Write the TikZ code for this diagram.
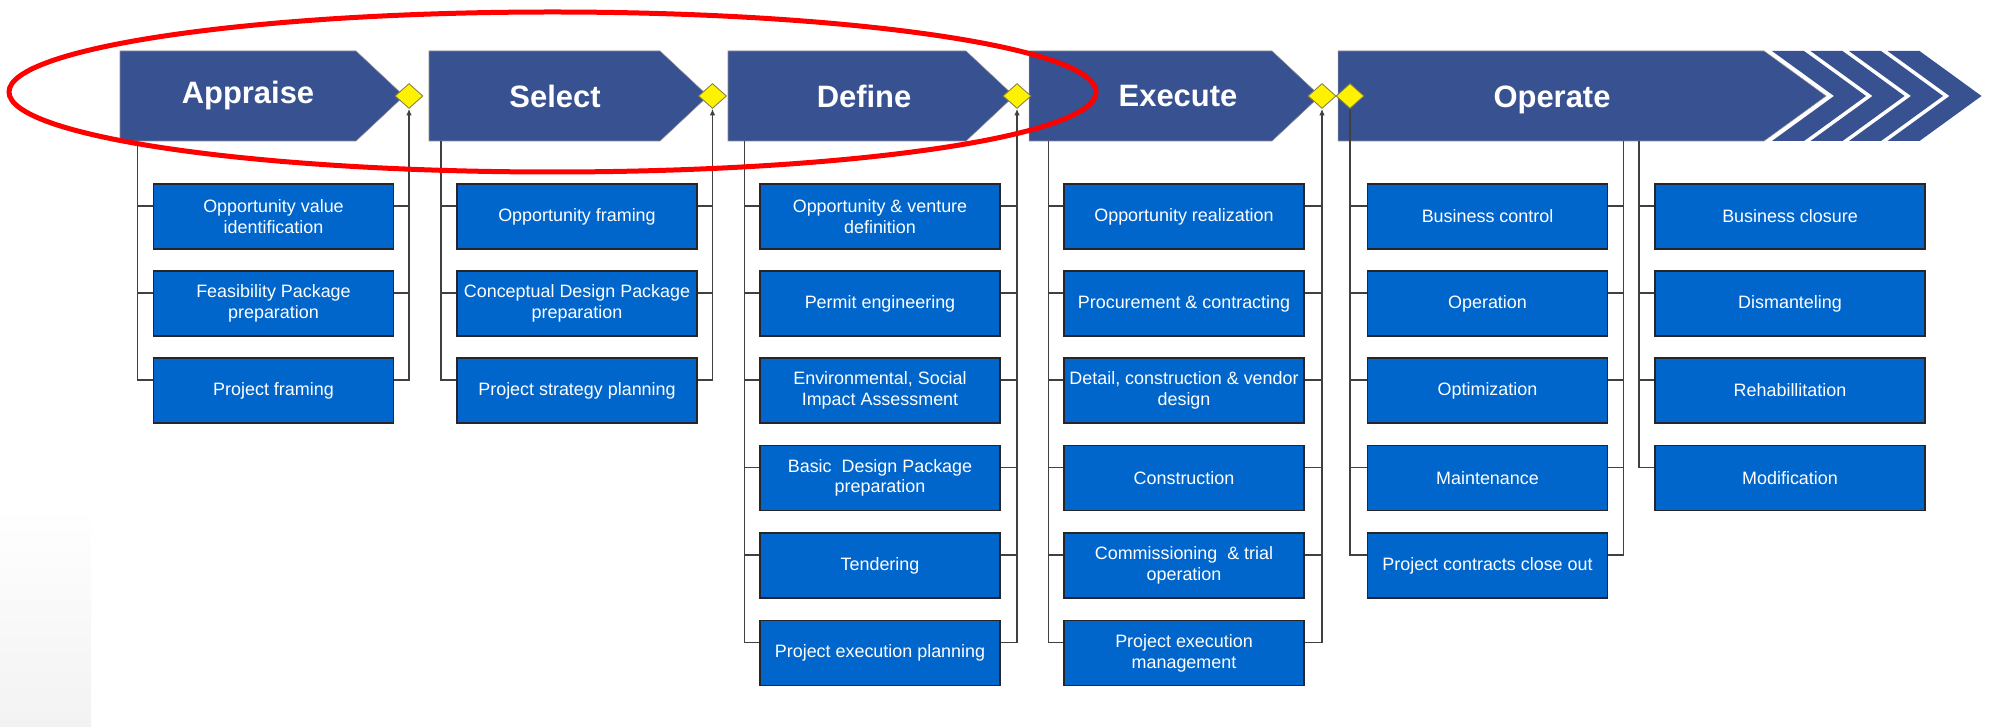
\documentclass[tikz,border=0pt]{standalone}
\usepackage{fontspec}
\setmainfont{Liberation Sans}
\usetikzlibrary{shapes.geometric,arrows.meta}

\definecolor{phaseblue}{RGB}{56,81,145}
\definecolor{taskblue}{RGB}{0,102,204}

\tikzset{
  phase/.style={fill=phaseblue,draw=black!45,line width=0.3pt},
  phasetext/.style={anchor=base,text=white,font=\bfseries\fontsize{17.6}{20}\selectfont},
  task/.style={draw=black!85,line width=0.8pt,fill=taskblue,text=white,
    minimum width=4.8cm,minimum height=1.3cm,inner sep=0pt,align=center,
    font=\fontsize{10.2}{11.8}\selectfont},
  gate/.style={diamond,draw=black!55!yellow,fill=yellow,line width=0.5pt,
    inner sep=0pt,minimum width=0.56cm,minimum height=0.5cm},
  conn/.style={draw=black!75,line width=0.6pt},
  gatearrow/.style={-{Latex[length=1.3mm,width=1.1mm]}},
  tap/.style={yshift=2.1mm}
}

\begin{document}
\begin{tikzpicture}
\useasboundingbox (0,0) rectangle (39.84,14.52);

%faint shading in the corner
\shade[top color=white,bottom color=black!5] (0,0) rectangle (1.82,4.4);

%phase arrows
\filldraw[phase] (2.4,13.5)--(7.12,13.5)--(8.08,12.6)--(7.12,11.7)--(2.4,11.7)--cycle;
\filldraw[phase] (8.58,13.5)--(13.2,13.5)--(14.16,12.6)--(13.2,11.7)--(8.58,11.7)--cycle;
\filldraw[phase] (14.56,13.5)--(19.32,13.5)--(20.28,12.6)--(19.32,11.7)--(14.56,11.7)--cycle;
\filldraw[phase] (20.58,13.5)--(25.44,13.5)--(26.4,12.6)--(25.44,11.7)--(20.58,11.7)--cycle;
\filldraw[phase] (26.76,13.5)--(35.28,13.5)--(36.52,12.6)--(35.28,11.7)--(26.76,11.7)--cycle;

%chevrons at the end of operate
\fill[phaseblue] (35.44,13.5)--(36.08,13.5)--(37.32,12.6)--(36.08,11.7)--(35.44,11.7)--(36.68,12.6)--cycle;
\fill[phaseblue] (36.21,13.5)--(36.85,13.5)--(38.09,12.6)--(36.85,11.7)--(36.21,11.7)--(37.45,12.6)--cycle;
\fill[phaseblue] (36.98,13.5)--(37.62,13.5)--(38.86,12.6)--(37.62,11.7)--(36.98,11.7)--(38.22,12.6)--cycle;
\fill[phaseblue] (37.75,13.5)--(38.39,13.5)--(39.63,12.6)--(38.39,11.7)--(37.75,11.7)--(38.99,12.6)--cycle;

%phase names
\node[phasetext] (appraise) at (4.96,12.45) {Appraise};
\node[phasetext] (select) at (11.1,12.37) {Select};
\node[phasetext] (define) at (17.28,12.37) {Define};
\node[phasetext] (execute) at (23.56,12.39) {Execute};
\node[phasetext] (operate) at (31.04,12.37) {Operate};

%gates
\node[gate] (gA) at (8.18,12.6) {};
\node[gate] (gS) at (14.25,12.6) {};
\node[gate] (gD) at (20.34,12.6) {};
\node[gate] (gE) at (26.44,12.6) {};
\node[gate] (gO) at (27.0,12.6) {};

%appraise tasks
\node[task] (a1) at (5.47,10.19) {Opportunity value\\identification};
\node[task] (a2) at (5.47,8.45) {Feasibility Package\\preparation};
\node[task] (a3) at (5.47,6.71) {Project framing};

%select tasks
\node[task] (s1) at (11.54,10.19) {Opportunity framing};
\node[task] (s2) at (11.54,8.45) {Conceptual Design Package\\preparation};
\node[task] (s3) at (11.54,6.71) {Project strategy planning};

%define tasks
\node[task] (d1) at (17.6,10.19) {Opportunity \& venture\\definition};
\node[task] (d2) at (17.6,8.45) {Permit engineering};
\node[task] (d3) at (17.6,6.71) {Environmental, Social\\Impact Assessment};
\node[task] (d4) at (17.6,4.96) {Basic~ Design Package\\preparation};
\node[task] (d5) at (17.6,3.21) {Tendering};
\node[task] (d6) at (17.6,1.46) {Project execution planning};

%execute tasks
\node[task] (e1) at (23.68,10.19) {Opportunity realization};
\node[task] (e2) at (23.68,8.45) {Procurement \& contracting};
\node[task] (e3) at (23.68,6.71) {Detail, construction \& vendor\\design};
\node[task] (e4) at (23.68,4.96) {Construction};
\node[task] (e5) at (23.68,3.21) {Commissioning~ \& trial\\operation};
\node[task] (e6) at (23.68,1.46) {Project execution\\management};

%operate tasks
\node[task] (o1) at (29.75,10.19) {Business control};
\node[task] (o2) at (29.75,8.45) {Operation};
\node[task] (o3) at (29.75,6.71) {Optimization};
\node[task] (o4) at (29.75,4.96) {Maintenance};
\node[task] (o5) at (29.75,3.21) {Project contracts close out};
\node[task,minimum width=5.4cm] (c1) at (35.8,10.19) {Business closure};
\node[task,minimum width=5.4cm] (c2) at (35.8,8.45) {Dismanteling};
\node[task,minimum width=5.4cm] (c3) at (35.8,6.71) {Rehabillitation};
\node[task,minimum width=5.4cm] (c4) at (35.8,4.96) {Modification};

%connecting appraise
\coordinate (aT) at (2.75,11.7);
\draw[conn] (aT) |- ([tap]a3.west);
\draw[conn] ([tap]a1.west) -- ([tap]a1.west -| aT);
\draw[conn] ([tap]a2.west) -- ([tap]a2.west -| aT);
\draw[conn] ([tap]a1.east) -- ([tap]a1.east -| gA);
\draw[conn] ([tap]a2.east) -- ([tap]a2.east -| gA);
\draw[conn,gatearrow] ([tap]a3.east) -| (gA.south);

%connecting select
\coordinate (sT) at (8.82,11.7);
\draw[conn] (sT) |- ([tap]s3.west);
\draw[conn] ([tap]s1.west) -- ([tap]s1.west -| sT);
\draw[conn] ([tap]s2.west) -- ([tap]s2.west -| sT);
\draw[conn] ([tap]s1.east) -- ([tap]s1.east -| gS);
\draw[conn] ([tap]s2.east) -- ([tap]s2.east -| gS);
\draw[conn,gatearrow] ([tap]s3.east) -| (gS.south);

%connecting define
\coordinate (dT) at (14.89,11.7);
\draw[conn] (dT) |- ([tap]d6.west);
\draw[conn] ([tap]d1.west) -- ([tap]d1.west -| dT);
\draw[conn] ([tap]d2.west) -- ([tap]d2.west -| dT);
\draw[conn] ([tap]d3.west) -- ([tap]d3.west -| dT);
\draw[conn] ([tap]d4.west) -- ([tap]d4.west -| dT);
\draw[conn] ([tap]d5.west) -- ([tap]d5.west -| dT);
\draw[conn] ([tap]d1.east) -- ([tap]d1.east -| gD);
\draw[conn] ([tap]d2.east) -- ([tap]d2.east -| gD);
\draw[conn] ([tap]d3.east) -- ([tap]d3.east -| gD);
\draw[conn] ([tap]d4.east) -- ([tap]d4.east -| gD);
\draw[conn] ([tap]d5.east) -- ([tap]d5.east -| gD);
\draw[conn,gatearrow] ([tap]d6.east) -| (gD.south);

%connecting execute
\coordinate (eT) at (20.97,11.7);
\draw[conn] (eT) |- ([tap]e6.west);
\draw[conn] ([tap]e1.west) -- ([tap]e1.west -| eT);
\draw[conn] ([tap]e2.west) -- ([tap]e2.west -| eT);
\draw[conn] ([tap]e3.west) -- ([tap]e3.west -| eT);
\draw[conn] ([tap]e4.west) -- ([tap]e4.west -| eT);
\draw[conn] ([tap]e5.west) -- ([tap]e5.west -| eT);
\draw[conn] ([tap]e1.east) -- ([tap]e1.east -| gE);
\draw[conn] ([tap]e2.east) -- ([tap]e2.east -| gE);
\draw[conn] ([tap]e3.east) -- ([tap]e3.east -| gE);
\draw[conn] ([tap]e4.east) -- ([tap]e4.east -| gE);
\draw[conn] ([tap]e5.east) -- ([tap]e5.east -| gE);
\draw[conn,gatearrow] ([tap]e6.east) -| (gE.south);

%connecting operate
\draw[conn] (gO.south) |- ([tap]o5.west);
\draw[conn] ([tap]o1.west) -- ([tap]o1.west -| gO);
\draw[conn] ([tap]o2.west) -- ([tap]o2.west -| gO);
\draw[conn] ([tap]o3.west) -- ([tap]o3.west -| gO);
\draw[conn] ([tap]o4.west) -- ([tap]o4.west -| gO);
\coordinate (oT) at (32.47,11.7);
\draw[conn] (oT) |- ([tap]o5.east);
\draw[conn] ([tap]o1.east) -- ([tap]o1.east -| oT);
\draw[conn] ([tap]o2.east) -- ([tap]o2.east -| oT);
\draw[conn] ([tap]o3.east) -- ([tap]o3.east -| oT);
\draw[conn] ([tap]o4.east) -- ([tap]o4.east -| oT);
\coordinate (cT) at (32.78,11.7);
\draw[conn] (cT) |- ([tap]c4.west);
\draw[conn] ([tap]c1.west) -- ([tap]c1.west -| cT);
\draw[conn] ([tap]c2.west) -- ([tap]c2.west -| cT);
\draw[conn] ([tap]c3.west) -- ([tap]c3.west -| cT);

%red ring round the first phases
\draw[red,line width=0.1cm] (11.05,12.68) ellipse (10.87 and 1.6);
\end{tikzpicture}
\end{document}
